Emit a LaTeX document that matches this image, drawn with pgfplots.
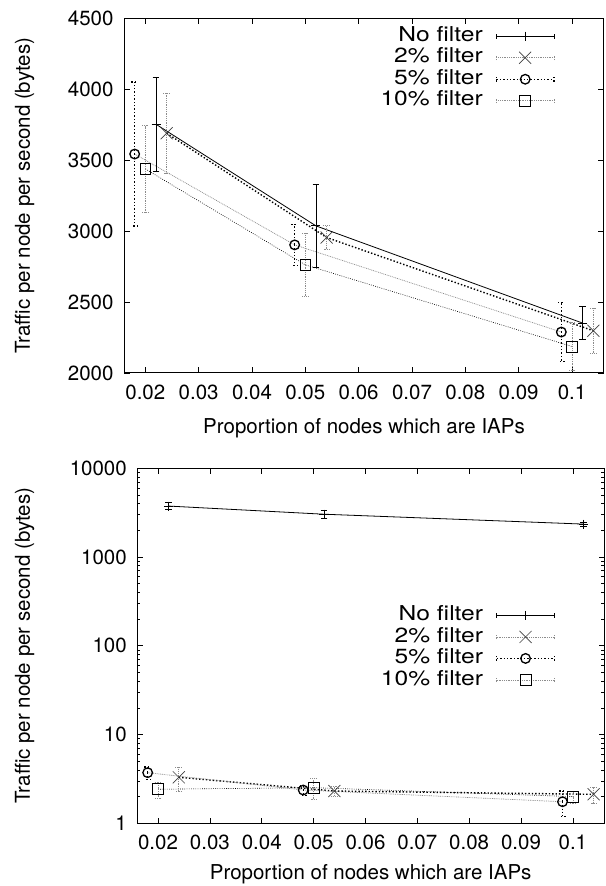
\documentclass[border=0pt]{standalone}
\usepackage{fontspec}
\setmainfont{TeX Gyre Heros}
\newfontfamily\legfam[FakeStretch=1.2]{TeX Gyre Heros}
\usepackage{pgfplots}
\pgfplotsset{compat=1.18}

\definecolor{gpGrey}{gray}{0.55}
\newcommand{\gpfont}{\fontsize{20.5}{24}\selectfont}
\newcommand{\legfont}{\legfam\fontsize{20.5}{24}\selectfont}

\tikzset{
  solidline/.style={black, solid, line width=0.8pt},
  finegrey/.style={gpGrey, dash pattern=on 0.9pt off 0.9pt, line width=0.7pt},
  fineblack/.style={black, dash pattern=on 0.8pt off 1.4pt, line width=0.6pt},
  thickdot/.style={black, dash pattern=on 1.4pt off 2pt, line width=1.4pt},
}

\pgfplotsset{
  gp/.style={
    scale only axis,
    xmin=0.016, xmax=0.106,
    xtick={0.02,0.03,0.04,0.05,0.06,0.07,0.08,0.09,0.1},
    xticklabels={0.02,0.03,0.04,0.05,0.06,0.07,0.08,0.09,0.1},
    tick align=inside,
    major tick length=5.5pt, minor tick length=3pt,
    axis line style={line width=1pt},
    every tick/.style={black, line width=0.6pt},
    font=\gpfont,
    tick label style={font=\gpfont},
    /pgf/number format/assume math mode=true,
    xticklabel style={yshift=-8pt},
    yticklabel style={xshift=-7pt},
    xlabel={Proportion of nodes which are IAPs},
    ylabel={Traffic per node per second (bytes)},
    legend plot pos=right,
    legend cell align=right,
    legend style={draw=none, fill=none, anchor=north east, column sep=12pt, font=\legfont,
      nodes={inner sep=1pt, text height=15pt, text depth=4.5pt}},
  },
  errleg/.style={legend image code/.code={
    \draw[##1] (0pt,0pt) -- (57.6pt,0pt);
    \draw[##1] (0pt,-2.3pt) -- (0pt,2.3pt);
    \draw[##1] (57.6pt,-2.3pt) -- (57.6pt,2.3pt);
    \draw[##1] plot coordinates {(28.8pt,0pt)};
  }},
  ebar/.style={only marks, forget plot,
    error bars/.cd, y dir=both, y explicit,
    error bar style={#1}, error mark options={#1, rotate=90, mark size=3.3pt}},
  mPlus/.style={mark=+, mark size=4.5pt, mark options={solid, black, line width=0.8pt}},
  mCross/.style={mark=x, mark size=8.5pt, mark options={solid, black!75, line width=0.7pt}},
  mCirc/.style={mark=o, mark size=4.8pt, mark options={solid, black, line width=1.3pt}},
  mSq/.style={mark=square, mark size=5.4pt, mark options={solid, black, line width=0.7pt}},
}

\begin{document}
\begin{tikzpicture}
\useasboundingbox (0,0) rectangle (605pt,886pt);

% ---------------- top: linear scale ----------------
\begin{axis}[gp,
    at={(124pt,513pt)}, anchor=south west,
    width=480pt, height=354.3pt,
    ymin=2000, ymax=4500,
    ytick={2000,2500,3000,3500,4000,4500},
    yticklabels={2000,2500,3000,3500,4000,4500},
    xlabel style={at={(axis description cs:0.5,-0.155)}, anchor=center},
    ylabel style={at={(axis description cs:-0.207,0.5)}, anchor=center},
    legend style={at={(axis description cs:0.904,0.987)}},
]
% connecting lines
\addplot[solidline, forget plot] coordinates {(0.022,3755) (0.052,3038) (0.102,2352)};
\addplot[thickdot, forget plot] coordinates {(0.024,3692) (0.054,2956) (0.104,2298)};
\addplot[finegrey, forget plot] coordinates {(0.018,3545) (0.048,2904) (0.098,2289)};
\addplot[fineblack, forget plot] coordinates {(0.020,3440) (0.050,2763) (0.100,2187)};
% error bars and points
\addplot[mPlus, ebar={solidline}]
  coordinates {(0.022,3755) +- (0,332) (0.052,3038) +- (0,294) (0.102,2352) +- (0,115)};
\addplot[mCross, ebar={finegrey}]
  coordinates {(0.024,3692) +- (0,283) (0.054,2956) +- (0,83) (0.104,2298) +- (0,158)};
\addplot[mCirc, ebar={thickdot}]
  coordinates {(0.018,3545) +- (0,508) (0.048,2904) +- (0,145) (0.098,2289) +- (0,208)};
\addplot[mSq, ebar={finegrey}]
  coordinates {(0.020,3440) +- (0,306) (0.050,2763) +- (0,224) (0.100,2187) +- (0,170)};
% legend
\addlegendimage{errleg, solidline, mPlus}
\addlegendentry{No filter}
\addlegendimage{errleg, finegrey, mCross}
\addlegendentry{2\% filter}
\addlegendimage{errleg, thickdot, mCirc}
\addlegendentry{5\% filter}
\addlegendimage{errleg, finegrey, mSq}
\addlegendentry{10\% filter}
\end{axis}

% ---------------- bottom: log scale ----------------
\begin{axis}[gp,
    at={(137.3pt,62.7pt)}, anchor=south west,
    width=466.7pt, height=355pt,
    ymode=log, ymin=1, ymax=10000,
    ytick={1,10,100,1000,10000},
    yticklabels={1,10,100,1000,10000},
    minor ytick={2,3,4,5,6,7,8,9,20,30,40,50,60,70,80,90,200,300,400,500,600,700,800,900,2000,3000,4000,5000,6000,7000,8000,9000},
    xlabel style={at={(axis description cs:0.5,-0.144)}, anchor=center},
    ylabel style={at={(axis description cs:-0.2417,0.5)}, anchor=center},
    legend style={at={(axis description cs:0.902,0.622)}},
]
\addplot[solidline, forget plot] coordinates {(0.022,3755) (0.052,3038) (0.102,2352)};
\addplot[thickdot, forget plot] coordinates {(0.024,3.30) (0.054,2.31) (0.104,2.12)};
\addplot[finegrey, forget plot] coordinates {(0.018,3.72) (0.048,2.37) (0.098,1.75)};
\addplot[fineblack, forget plot] coordinates {(0.020,2.42) (0.050,2.52) (0.100,2.00)};
\addplot[mPlus, ebar={solidline}]
  coordinates {(0.022,3755) +- (0,332) (0.052,3038) +- (0,294) (0.102,2352) +- (0,115)};
\addplot[mCross, ebar={finegrey}]
  coordinates {(0.024,3.30) +- (0,1.0) (0.054,2.31) +- (0,0.3) (0.104,2.12) +- (0,0.45)};
\addplot[mCirc, ebar={thickdot}]
  coordinates {(0.018,3.72) +- (0,0.6) (0.048,2.37) +- (0,0.3) (0.098,1.75) +- (0,0.55)};
\addplot[mSq, ebar={finegrey}]
  coordinates {(0.020,2.42) +- (0,0.5) (0.050,2.52) +- (0,0.65) (0.100,2.00) +- (0,0.3)};
\addlegendimage{errleg, solidline, mPlus}
\addlegendentry{No filter}
\addlegendimage{errleg, finegrey, mCross}
\addlegendentry{2\% filter}
\addlegendimage{errleg, thickdot, mCirc}
\addlegendentry{5\% filter}
\addlegendimage{errleg, finegrey, mSq}
\addlegendentry{10\% filter}
\end{axis}
\end{tikzpicture}
\end{document}
